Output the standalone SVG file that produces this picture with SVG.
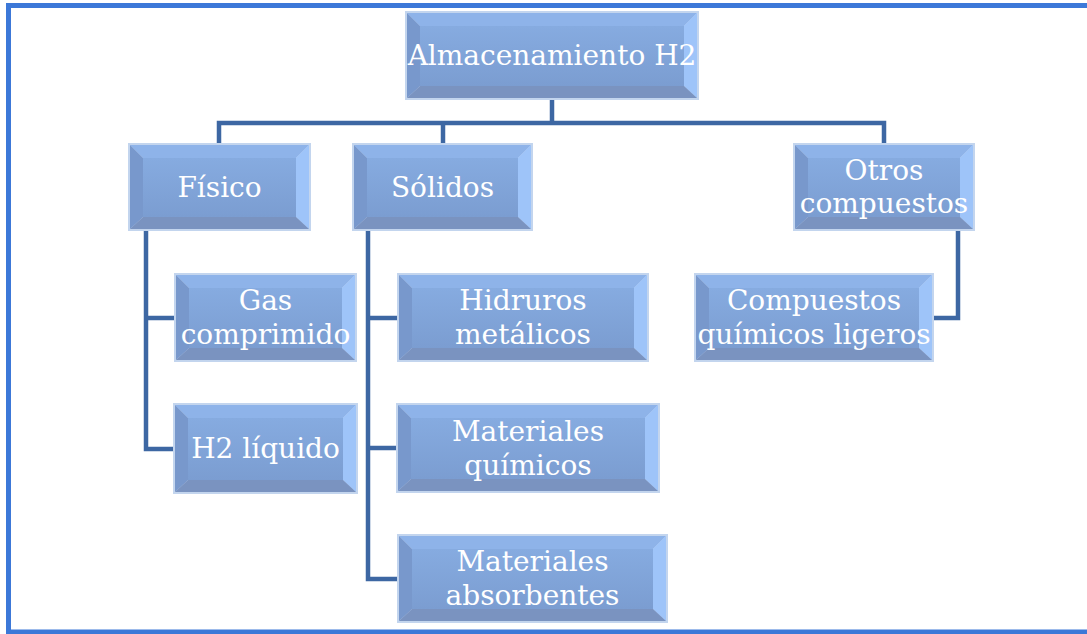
<svg xmlns="http://www.w3.org/2000/svg" width="1087" height="634" viewBox="0 0 1087 634">
<defs>
<linearGradient id="face" x1="0" y1="0" x2="0" y2="1">
<stop offset="0" stop-color="#86abe0"/>
<stop offset="1" stop-color="#7b9dd1"/>
</linearGradient>
</defs>
<style>
.bd{fill:#c3d5ee}
.fc{fill:url(#face)}
.bt{fill:#8eb3e9}
.bl{fill:#7898cc}
.br{fill:#9ec4f9}
.bb{fill:#7a93c0}
.t{font-family:"DejaVu Serif","Liberation Serif",serif;font-size:28px;fill:#ffffff;text-anchor:middle}
.c{fill:none;stroke:#3d67a3;stroke-width:4.5;stroke-linejoin:miter}
</style>
<rect x="0" y="0" width="1087" height="634" fill="#ffffff"/>
<path d="M1090,5.5 H8.5 V632 H1090" fill="none" stroke="#3c78d8" stroke-width="5"/>

<g id="connectors">
<path class="c" d="M552,100 V123"/>
<path class="c" d="M219,143 V123 H884 V143"/>
<path class="c" d="M443,123 V143"/>
<path class="c" d="M146,231 V449 H173"/>
<path class="c" d="M146,318 H174"/>
<path class="c" d="M368,231 V579 H397"/>
<path class="c" d="M368,318 H397"/>
<path class="c" d="M368,448 H396"/>
<path class="c" d="M958,231 V318 H934"/>
</g>

<g id="n-almacenamiento">
<rect class="bd" x="405" y="11" width="294" height="89"/>
<polygon class="bt" points="407,13 697,13 684,26 420,26"/>
<polygon class="bl" points="407,13 420,26 420,86 407,98"/>
<polygon class="br" points="697,13 697,98 684,86 684,26"/>
<polygon class="bb" points="407,98 420,86 684,86 697,98"/>
<rect class="fc" x="420" y="26" width="264" height="60"/>
<text class="t" x="552" y="65">Almacenamiento H2</text>
</g>

<g id="n-fisico">
<rect class="bd" x="128" y="143" width="183" height="88"/>
<polygon class="bt" points="130,145 309,145 296,158 143,158"/>
<polygon class="bl" points="130,145 143,158 143,217 130,229"/>
<polygon class="br" points="309,145 309,229 296,217 296,158"/>
<polygon class="bb" points="130,229 143,217 296,217 309,229"/>
<rect class="fc" x="143" y="158" width="153" height="59"/>
<text class="t" x="219.5" y="197">Físico</text>
</g>

<g id="n-solidos">
<rect class="bd" x="352" y="143" width="181" height="88"/>
<polygon class="bt" points="354,145 531,145 518,158 367,158"/>
<polygon class="bl" points="354,145 367,158 367,217 354,229"/>
<polygon class="br" points="531,145 531,229 518,217 518,158"/>
<polygon class="bb" points="354,229 367,217 518,217 531,229"/>
<rect class="fc" x="367" y="158" width="151" height="59"/>
<text class="t" x="442.5" y="197">Sólidos</text>
</g>

<g id="n-otros">
<rect class="bd" x="793" y="143" width="182" height="88"/>
<polygon class="bt" points="795,145 973,145 960,158 808,158"/>
<polygon class="bl" points="795,145 808,158 808,217 795,229"/>
<polygon class="br" points="973,145 973,229 960,217 960,158"/>
<polygon class="bb" points="795,229 808,217 960,217 973,229"/>
<rect class="fc" x="808" y="158" width="152" height="59"/>
<text class="t" x="884" y="180">Otros</text>
<text class="t" x="884" y="213">compuestos</text>
</g>

<g id="n-gas">
<rect class="bd" x="174" y="273" width="183" height="89"/>
<polygon class="bt" points="176,275 355,275 342,288 189,288"/>
<polygon class="bl" points="176,275 189,288 189,348 176,360"/>
<polygon class="br" points="355,275 355,360 342,348 342,288"/>
<polygon class="bb" points="176,360 189,348 342,348 355,360"/>
<rect class="fc" x="189" y="288" width="153" height="60"/>
<text class="t" x="265.5" y="310">Gas</text>
<text class="t" x="265.5" y="344">comprimido</text>
</g>

<g id="n-h2liquido">
<rect class="bd" x="173" y="403" width="185" height="91"/>
<polygon class="bt" points="175,405 356,405 343,418 188,418"/>
<polygon class="bl" points="175,405 188,418 188,480 175,492"/>
<polygon class="br" points="356,405 356,492 343,480 343,418"/>
<polygon class="bb" points="175,492 188,480 343,480 356,492"/>
<rect class="fc" x="188" y="418" width="155" height="62"/>
<text class="t" x="265.5" y="458">H2 líquido</text>
</g>

<g id="n-hidruros">
<rect class="bd" x="397" y="273" width="252" height="89"/>
<polygon class="bt" points="399,275 647,275 634,288 412,288"/>
<polygon class="bl" points="399,275 412,288 412,348 399,360"/>
<polygon class="br" points="647,275 647,360 634,348 634,288"/>
<polygon class="bb" points="399,360 412,348 634,348 647,360"/>
<rect class="fc" x="412" y="288" width="222" height="60"/>
<text class="t" x="523" y="310">Hidruros</text>
<text class="t" x="523" y="344">metálicos</text>
</g>

<g id="n-matquimicos">
<rect class="bd" x="396" y="403" width="264" height="90"/>
<polygon class="bt" points="398,405 658,405 645,418 411,418"/>
<polygon class="bl" points="398,405 411,418 411,479 398,491"/>
<polygon class="br" points="658,405 658,491 645,479 645,418"/>
<polygon class="bb" points="398,491 411,479 645,479 658,491"/>
<rect class="fc" x="411" y="418" width="234" height="61"/>
<text class="t" x="528" y="441">Materiales</text>
<text class="t" x="528" y="475">químicos</text>
</g>

<g id="n-matabsorbentes">
<rect class="bd" x="397" y="534" width="271" height="89"/>
<polygon class="bt" points="399,536 666,536 653,549 412,549"/>
<polygon class="bl" points="399,536 412,549 412,609 399,621"/>
<polygon class="br" points="666,536 666,621 653,609 653,549"/>
<polygon class="bb" points="399,621 412,609 653,609 666,621"/>
<rect class="fc" x="412" y="549" width="241" height="60"/>
<text class="t" x="532.5" y="571">Materiales</text>
<text class="t" x="532.5" y="605">absorbentes</text>
</g>

<g id="n-compuestos">
<rect class="bd" x="694" y="273" width="240" height="89"/>
<polygon class="bt" points="696,275 932,275 919,288 709,288"/>
<polygon class="bl" points="696,275 709,288 709,348 696,360"/>
<polygon class="br" points="932,275 932,360 919,348 919,288"/>
<polygon class="bb" points="696,360 709,348 919,348 932,360"/>
<rect class="fc" x="709" y="288" width="210" height="60"/>
<text class="t" x="814" y="310">Compuestos</text>
<text class="t" x="814" y="344">químicos ligeros</text>
</g>
</svg>
